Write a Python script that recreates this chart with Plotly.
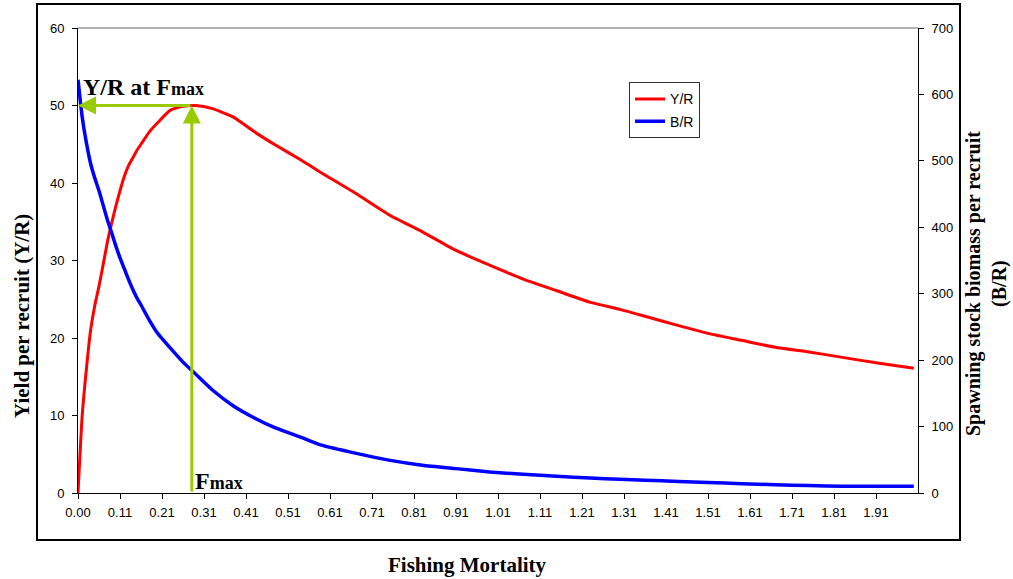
import plotly.graph_objects as go

# ---- data ----
F_VALUES = [0.005, 0.015, 0.025, 0.035, 0.045, 0.055, 0.065, 0.075, 0.085, 0.095,
            0.105, 0.115, 0.125, 0.135, 0.145, 0.155, 0.175, 0.195,
            0.225, 0.255, 0.285, 0.325, 0.375, 0.425, 0.475, 0.535, 0.585, 0.665,
            0.745, 0.825, 0.905, 0.985, 1.065, 1.145, 1.225, 1.295, 1.355, 1.435,
            1.505, 1.585, 1.665, 1.745, 1.825, 1.905, 1.995]
YR_VALUES = [0.0, 10.0, 16.0, 21.0, 24.2, 26.7, 29.5, 32.4, 34.8, 37.0,
             39.0, 40.8, 42.2, 43.2, 44.2, 45.0, 46.6, 47.8,
             49.4, 49.9, 50.0, 49.6, 48.5, 46.6, 44.9, 43.0, 41.3, 38.7,
             35.9, 33.7, 31.3, 29.4, 27.6, 26.1, 24.6, 23.7, 22.8, 21.6,
             20.6, 19.7, 18.8, 18.2, 17.5, 16.8, 16.1]
BR_VALUES = [622, 566, 527, 496, 474, 455, 433, 411, 392, 372,
             354, 338, 322, 307, 294, 283, 260, 240,
             218, 197, 179, 155, 131, 113, 98, 84, 72, 60,
             49.5, 41.8, 36.7, 31.6, 28.2, 25.2, 22.6, 20.7, 19.3, 17.3,
             15.8, 14.1, 12.4, 11.2, 10.3, 10.1, 10.0]
X_TICK_LABELS = ["0.00", "0.11", "0.21", "0.31", "0.41", "0.51", "0.61", "0.71",
                 "0.81", "0.91", "1.01", "1.11", "1.21", "1.31", "1.41", "1.51",
                 "1.61", "1.71", "1.81", "1.91"]
X_TICK_VALUES = [0.005 + 0.1 * k for k in range(len(X_TICK_LABELS))]
FMAX = 0.276
YR_AT_FMAX = 50.0

SERIF = "Times New Roman, Liberation Serif, serif"
SANS = "Arial, Liberation Sans, sans-serif"
GREEN = "#99CC00"

fig = go.Figure()
fig.add_trace(go.Scatter(x=F_VALUES, y=YR_VALUES, mode="lines", name="Y/R",
                         legendgroup="a",
                         line=dict(color="#FF0000", width=3, shape="spline", smoothing=0.5)))
fig.add_trace(go.Scatter(x=F_VALUES, y=BR_VALUES, mode="lines", name="B/R",
                         legendgroup="b", yaxis="y2",
                         line=dict(color="#0000FF", width=3.5, shape="spline", smoothing=0.5)))

fig.update_layout(
    width=1013, height=579,
    margin=dict(l=78, r=95, t=28, b=86),
    paper_bgcolor="white", plot_bgcolor="white",
    font=dict(family=SANS, size=13, color="black"),
    xaxis=dict(range=[0.005, 2.005], tickvals=X_TICK_VALUES, ticktext=X_TICK_LABELS,
               showgrid=False, zeroline=False, showline=True, linecolor="black", linewidth=1,
               ticks="outside", ticklen=5, tickcolor="black", ticklabelstandoff=2,
               tickfont=dict(family=SANS, size=13)),
    yaxis=dict(range=[0, 60], tickvals=[0, 10, 20, 30, 40, 50, 60],
               showgrid=False, zeroline=False, showline=True, linecolor="black", linewidth=1,
               ticks="outside", ticklen=5, tickcolor="black", ticklabelstandoff=5,
               tickfont=dict(family=SANS, size=13)),
    yaxis2=dict(range=[0, 700], tickvals=[0, 100, 200, 300, 400, 500, 600, 700],
                overlaying="y", side="right",
                showgrid=False, zeroline=False, showline=True, linecolor="black", linewidth=1,
                ticks="outside", ticklen=5, tickcolor="black", ticklabelstandoff=5,
                tickfont=dict(family=SANS, size=13)),
    legend=dict(x=0.656, y=0.883, xanchor="left", yanchor="top",
                bgcolor="white", bordercolor="#333333", borderwidth=1,
                font=dict(family=SANS, size=14), traceorder="grouped", tracegroupgap=1,
                itemwidth=30),
    showlegend=True,
)

# outer frame and grey top border of the plot area
fig.add_shape(type="rect", xref="paper", yref="paper", x0=-0.0488, x1=1.05, y0=-0.101, y1=1.0516,
              line=dict(color="black", width=2), layer="below")
fig.add_shape(type="line", xref="paper", yref="paper", x0=0, x1=1, y0=1, y1=1,
              line=dict(color="#999999", width=1.5))

# green arrows
fig.add_annotation(x=0.005, y=YR_AT_FMAX, ax=FMAX, ay=YR_AT_FMAX, xref="x", yref="y",
                   axref="x", ayref="y", text="", showarrow=True, arrowhead=2,
                   arrowsize=1.2, arrowwidth=3, arrowcolor=GREEN, standoff=0)
fig.add_annotation(x=FMAX, y=YR_AT_FMAX, ax=FMAX, ay=0, xref="x", yref="y",
                   axref="x", ayref="y", text="", showarrow=True, arrowhead=2,
                   arrowsize=1.2, arrowwidth=3, arrowcolor=GREEN, standoff=0)

# text annotations
fig.add_annotation(xref="paper", yref="paper", x=(81 - 78) / 840, y=(493 - 102) / 465,
                   xanchor="left", yanchor="bottom", showarrow=False,
                   text="<b>Y/R at F<span style='font-size:18px'>max</span></b>",
                   font=dict(family=SERIF, size=24, color="black"))
fig.add_annotation(xref="paper", yref="paper", x=(193 - 78) / 840, y=(493 - 496) / 465,
                   xanchor="left", yanchor="bottom", showarrow=False,
                   text="<b>F<span style='font-size:18px'>max</span></b>",
                   font=dict(family=SERIF, size=24, color="black"))
fig.add_annotation(xref="paper", yref="paper", x=(22 - 78) / 840, y=(493 - 316) / 465,
                   xanchor="center", yanchor="middle", showarrow=False, textangle=-90,
                   text="<b>Yield per recruit (Y/R)</b>",
                   font=dict(family=SERIF, size=21, color="black"))
fig.add_annotation(xref="paper", yref="paper", x=(986 - 78) / 840, y=(493 - 284) / 465,
                   xanchor="center", yanchor="middle", showarrow=False, textangle=-90,
                   text="<b>Spawning stock biomass per recruit<br>(B/R)</b>",
                   font=dict(family=SERIF, size=20, color="black"))
fig.add_annotation(xref="paper", yref="paper", x=(467 - 78) / 840, y=(493 - 565) / 465,
                   xanchor="center", yanchor="middle", showarrow=False,
                   text="<b>Fishing Mortality</b>",
                   font=dict(family=SERIF, size=21, color="black"))

fig.write_html("out.html")
